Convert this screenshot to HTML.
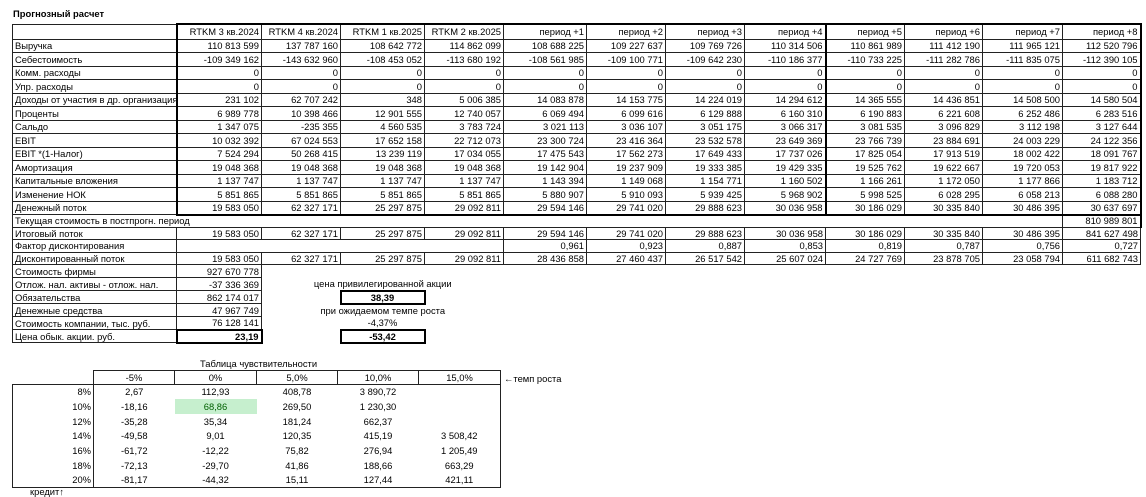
<!DOCTYPE html>
<html><head><meta charset="utf-8"><style>
body{margin:0;width:1146px;height:494px;background:#fff;position:relative;overflow:hidden;font-family:"Liberation Sans","DejaVu Sans",sans-serif;font-size:9.4px;color:#000}
.abs{position:absolute;white-space:nowrap}
table{border-collapse:collapse;table-layout:fixed;position:absolute}
td{padding:0 2px;white-space:nowrap;overflow:hidden;text-align:right;line-height:1;vertical-align:middle}
td.l{text-align:left;overflow:visible}
.b td{border:1px solid #222}
td.n{border:none!important}
td.c{text-align:center}
.tk{border:2px solid #000!important}
.bold{font-weight:bold}
</style></head><body>
<div class="abs bold" style="left:13px;top:8px;font-size:9.4px">Прогнозный расчет</div>

<table style="left:12px;top:23px;width:1128px">
<colgroup><col style="width:164px"><col style="width:85px"><col style="width:79px"><col style="width:84px"><col style="width:79px"><col style="width:83px"><col style="width:79px"><col style="width:79px"><col style="width:81px"><col style="width:79px"><col style="width:78px"><col style="width:80px"><col style="width:78px"></colgroup>
<tbody class="b">
<tr style="height:15px"><td></td><td style="border-top:2px solid #000;border-left:2px solid #000">RTKM 3 кв.2024</td><td style="border-top:2px solid #000">RTKM 4 кв.2024</td><td style="border-top:2px solid #000">RTKM 1 кв.2025</td><td style="border-top:2px solid #000">RTKM 2 кв.2025</td><td style="border-top:2px solid #000">период +1</td><td style="border-top:2px solid #000">период +2</td><td style="border-top:2px solid #000">период +3</td><td style="border-top:2px solid #000;border-right:2px solid #000">период +4</td><td style="border-top:2px solid #000">период +5</td><td style="border-top:2px solid #000">период +6</td><td style="border-top:2px solid #000">период +7</td><td style="border-top:2px solid #000;border-right:2px solid #000">период +8</td></tr>
<tr style="height:13.5px"><td class="l">Выручка</td><td style="border-left:2px solid #000">110 813 599</td><td>137 787 160</td><td>108 642 772</td><td>114 862 099</td><td>108 688 225</td><td>109 227 637</td><td>109 769 726</td><td style="border-right:2px solid #000">110 314 506</td><td>110 861 989</td><td>111 412 190</td><td>111 965 121</td><td style="border-right:2px solid #000">112 520 796</td></tr>
<tr style="height:13.5px"><td class="l">Себестоимость</td><td style="border-left:2px solid #000">-109 349 162</td><td>-143 632 960</td><td>-108 453 052</td><td>-113 680 192</td><td>-108 561 985</td><td>-109 100 771</td><td>-109 642 230</td><td style="border-right:2px solid #000">-110 186 377</td><td>-110 733 225</td><td>-111 282 786</td><td>-111 835 075</td><td style="border-right:2px solid #000">-112 390 105</td></tr>
<tr style="height:13.5px"><td class="l">Комм. расходы</td><td style="border-left:2px solid #000">0</td><td>0</td><td>0</td><td>0</td><td>0</td><td>0</td><td>0</td><td style="border-right:2px solid #000">0</td><td>0</td><td>0</td><td>0</td><td style="border-right:2px solid #000">0</td></tr>
<tr style="height:13.5px"><td class="l">Упр. расходы</td><td style="border-left:2px solid #000">0</td><td>0</td><td>0</td><td>0</td><td>0</td><td>0</td><td>0</td><td style="border-right:2px solid #000">0</td><td>0</td><td>0</td><td>0</td><td style="border-right:2px solid #000">0</td></tr>
<tr style="height:13.5px"><td class="l" style="overflow:hidden">Доходы от участия в др. организациях</td><td style="border-left:2px solid #000">231 102</td><td>62 707 242</td><td>348</td><td>5 006 385</td><td>14 083 878</td><td>14 153 775</td><td>14 224 019</td><td style="border-right:2px solid #000">14 294 612</td><td>14 365 555</td><td>14 436 851</td><td>14 508 500</td><td style="border-right:2px solid #000">14 580 504</td></tr>
<tr style="height:13.5px"><td class="l">Проценты</td><td style="border-left:2px solid #000">6 989 778</td><td>10 398 466</td><td>12 901 555</td><td>12 740 057</td><td>6 069 494</td><td>6 099 616</td><td>6 129 888</td><td style="border-right:2px solid #000">6 160 310</td><td>6 190 883</td><td>6 221 608</td><td>6 252 486</td><td style="border-right:2px solid #000">6 283 516</td></tr>
<tr style="height:13.5px"><td class="l">Сальдо</td><td style="border-left:2px solid #000">1 347 075</td><td>-235 355</td><td>4 560 535</td><td>3 783 724</td><td>3 021 113</td><td>3 036 107</td><td>3 051 175</td><td style="border-right:2px solid #000">3 066 317</td><td>3 081 535</td><td>3 096 829</td><td>3 112 198</td><td style="border-right:2px solid #000">3 127 644</td></tr>
<tr style="height:13.5px"><td class="l">EBIT</td><td style="border-left:2px solid #000">10 032 392</td><td>67 024 553</td><td>17 652 158</td><td>22 712 073</td><td>23 300 724</td><td>23 416 364</td><td>23 532 578</td><td style="border-right:2px solid #000">23 649 369</td><td>23 766 739</td><td>23 884 691</td><td>24 003 229</td><td style="border-right:2px solid #000">24 122 356</td></tr>
<tr style="height:13.5px"><td class="l">EBIT *(1-Налог)</td><td style="border-left:2px solid #000">7 524 294</td><td>50 268 415</td><td>13 239 119</td><td>17 034 055</td><td>17 475 543</td><td>17 562 273</td><td>17 649 433</td><td style="border-right:2px solid #000">17 737 026</td><td>17 825 054</td><td>17 913 519</td><td>18 002 422</td><td style="border-right:2px solid #000">18 091 767</td></tr>
<tr style="height:13.5px"><td class="l">Амортизация</td><td style="border-left:2px solid #000">19 048 368</td><td>19 048 368</td><td>19 048 368</td><td>19 048 368</td><td>19 142 904</td><td>19 237 909</td><td>19 333 385</td><td style="border-right:2px solid #000">19 429 335</td><td>19 525 762</td><td>19 622 667</td><td>19 720 053</td><td style="border-right:2px solid #000">19 817 922</td></tr>
<tr style="height:13.5px"><td class="l">Капитальные вложения</td><td style="border-left:2px solid #000">1 137 747</td><td>1 137 747</td><td>1 137 747</td><td>1 137 747</td><td>1 143 394</td><td>1 149 068</td><td>1 154 771</td><td style="border-right:2px solid #000">1 160 502</td><td>1 166 261</td><td>1 172 050</td><td>1 177 866</td><td style="border-right:2px solid #000">1 183 712</td></tr>
<tr style="height:13.5px"><td class="l">Изменение НОК</td><td style="border-left:2px solid #000">5 851 865</td><td>5 851 865</td><td>5 851 865</td><td>5 851 865</td><td>5 880 907</td><td>5 910 093</td><td>5 939 425</td><td style="border-right:2px solid #000">5 968 902</td><td>5 998 525</td><td>6 028 295</td><td>6 058 213</td><td style="border-right:2px solid #000">6 088 280</td></tr>
<tr style="height:13.5px"><td class="l">Денежный поток</td><td style="border-left:2px solid #000;border-bottom:2px solid #000">19 583 050</td><td style="border-bottom:2px solid #000">62 327 171</td><td style="border-bottom:2px solid #000">25 297 875</td><td style="border-bottom:2px solid #000">29 092 811</td><td style="border-bottom:2px solid #000">29 594 146</td><td style="border-bottom:2px solid #000">29 741 020</td><td style="border-bottom:2px solid #000">29 888 623</td><td style="border-right:2px solid #000;border-bottom:2px solid #000">30 036 958</td><td style="border-bottom:2px solid #000">30 186 029</td><td style="border-bottom:2px solid #000">30 335 840</td><td style="border-bottom:2px solid #000">30 486 395</td><td style="border-right:2px solid #000;border-bottom:2px solid #000">30 637 697</td></tr>
<tr style="height:12.6px"><td class="l" colspan="12">Текущая стоимость в постпрогн. период</td><td style="border-right:2px solid #000">810 989 801</td></tr>
<tr style="height:12.6px"><td class="l">Итоговый поток</td><td>19 583 050</td><td>62 327 171</td><td>25 297 875</td><td>29 092 811</td><td>29 594 146</td><td>29 741 020</td><td>29 888 623</td><td>30 036 958</td><td>30 186 029</td><td>30 335 840</td><td>30 486 395</td><td>841 627 498</td></tr>
<tr style="height:12.6px"><td class="l">Фактор дисконтирования</td><td colspan="4"></td><td>0,961</td><td>0,923</td><td>0,887</td><td>0,853</td><td>0,819</td><td>0,787</td><td>0,756</td><td>0,727</td></tr>
<tr style="height:12.6px"><td class="l">Дисконтированный поток</td><td>19 583 050</td><td>62 327 171</td><td>25 297 875</td><td>29 092 811</td><td>28 436 858</td><td>27 460 437</td><td>26 517 542</td><td>25 607 024</td><td>24 727 769</td><td>23 878 705</td><td>23 058 794</td><td>611 682 743</td></tr>
<tr style="height:13px"><td class="l">Стоимость фирмы</td><td>927 670 778</td><td class="n" colspan="11"></td></tr>
<tr style="height:13px"><td class="l">Отлож. нал. активы - отлож. нал.</td><td>-37 336 369</td><td class="n c" colspan="3">цена привилегированной акции</td><td class="n" colspan="8"></td></tr>
<tr style="height:13px"><td class="l">Обязательства</td><td>862 174 017</td><td class="n"></td><td class="c bold" style="border:2px solid #000">38,39</td><td class="n" colspan="9"></td></tr>
<tr style="height:13px"><td class="l">Денежные средства</td><td>47 967 749</td><td class="n c" colspan="3">при ожидаемом темпе роста</td><td class="n" colspan="8"></td></tr>
<tr style="height:13px"><td class="l">Стоимость компании, тыс. руб.</td><td>76 128 141</td><td class="n"></td><td class="n c">-4,37%</td><td class="n" colspan="9"></td></tr>
<tr style="height:13px"><td class="l">Цена обык. акции. руб.</td><td class="bold" style="border:2px solid #000">23,19</td><td class="n"></td><td class="c bold" style="border:2px solid #000">-53,42</td><td class="n" colspan="9"></td></tr>
</tbody></table>

<div class="abs" style="left:200px;top:358px">Таблица чувствительности</div>
<div class="abs" style="left:504px;top:373px">←темп роста</div>
<div class="abs" style="left:30px;top:486px">кредит↑</div>

<table style="left:12px;top:370px;width:488px">
<colgroup><col style="width:81px"><col style="width:81px"><col style="width:82px"><col style="width:81px"><col style="width:81px"><col style="width:82px"></colgroup>
<tbody>
<tr style="height:14px"><td></td><td class="c" style="border:1px solid #222">-5%</td><td class="c" style="border:1px solid #222">0%</td><td class="c" style="border:1px solid #222">5,0%</td><td class="c" style="border:1px solid #222">10,0%</td><td class="c" style="border:1px solid #222">15,0%</td></tr>
<tr style="height:14.7px"><td style="border-left:1px solid #222;border-top:1px solid #222;border-right:1px solid #222">8%</td><td class="c" style="border-top:1px solid #222">2,67</td><td class="c" style="border-top:1px solid #222">112,93</td><td class="c" style="border-top:1px solid #222">408,78</td><td class="c" style="border-top:1px solid #222">3 890,72</td><td class="c" style="border-top:1px solid #222;border-right:1px solid #222"></td></tr>
<tr style="height:14.7px"><td style="border-left:1px solid #222;border-right:1px solid #222">10%</td><td class="c">-18,16</td><td class="c" style="background:#c6efce;color:#006100">68,86</td><td class="c">269,50</td><td class="c">1 230,30</td><td class="c" style="border-right:1px solid #222"></td></tr>
<tr style="height:14.7px"><td style="border-left:1px solid #222;border-right:1px solid #222">12%</td><td class="c">-35,28</td><td class="c">35,34</td><td class="c">181,24</td><td class="c">662,37</td><td class="c" style="border-right:1px solid #222"></td></tr>
<tr style="height:14.7px"><td style="border-left:1px solid #222;border-right:1px solid #222">14%</td><td class="c">-49,58</td><td class="c">9,01</td><td class="c">120,35</td><td class="c">415,19</td><td class="c" style="border-right:1px solid #222">3 508,42</td></tr>
<tr style="height:14.7px"><td style="border-left:1px solid #222;border-right:1px solid #222">16%</td><td class="c">-61,72</td><td class="c">-12,22</td><td class="c">75,82</td><td class="c">276,94</td><td class="c" style="border-right:1px solid #222">1 205,49</td></tr>
<tr style="height:14.7px"><td style="border-left:1px solid #222;border-right:1px solid #222">18%</td><td class="c">-72,13</td><td class="c">-29,70</td><td class="c">41,86</td><td class="c">188,66</td><td class="c" style="border-right:1px solid #222">663,29</td></tr>
<tr style="height:14.7px"><td style="border-left:1px solid #222;border-right:1px solid #222;border-bottom:1px solid #222">20%</td><td class="c" style="border-bottom:1px solid #222">-81,17</td><td class="c" style="border-bottom:1px solid #222">-44,32</td><td class="c" style="border-bottom:1px solid #222">15,11</td><td class="c" style="border-bottom:1px solid #222">127,44</td><td class="c" style="border-right:1px solid #222;border-bottom:1px solid #222">421,11</td></tr>
</tbody></table>
</body></html>
